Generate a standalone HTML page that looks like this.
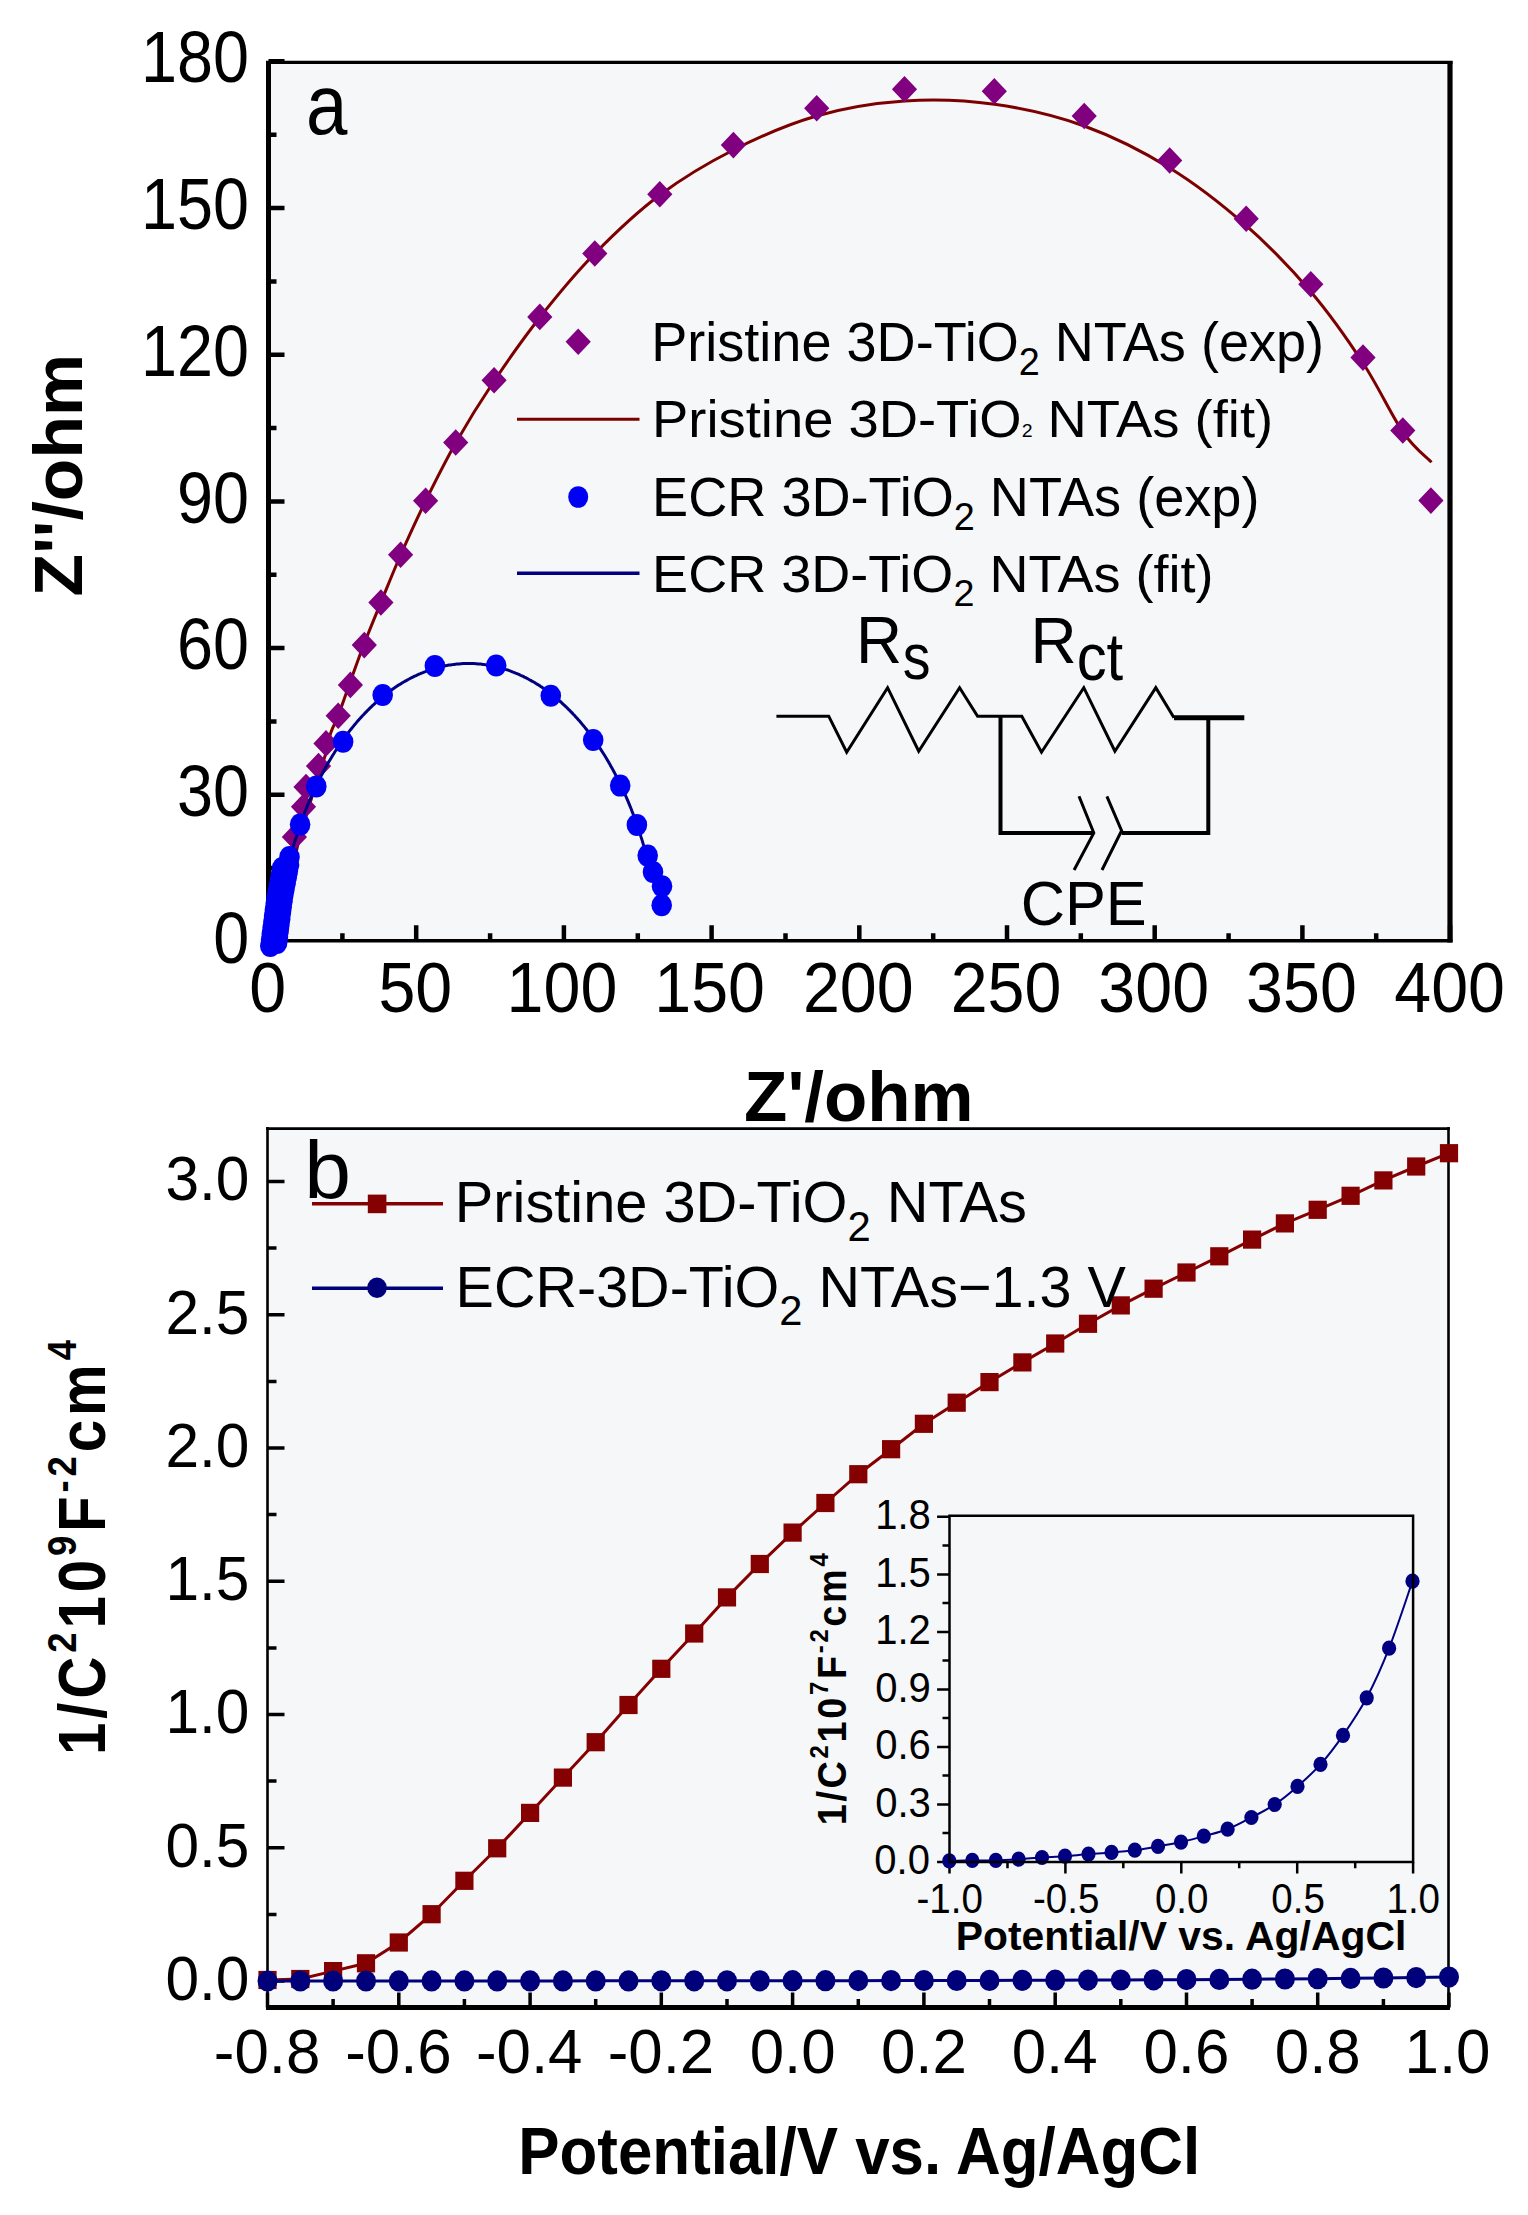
<!DOCTYPE html>
<html><head><meta charset="utf-8"><style>
html,body{margin:0;padding:0;background:#fff;}
svg{display:block}
</style></head><body>
<svg width="1528" height="2215" viewBox="0 0 1528 2215">
<rect width="1528" height="2215" fill="#fff"/>
<rect x="268.5" y="62.5" width="1181.5" height="878.3" fill="#f5f7f9"/>
<path d="M268.5 941.5h16 M268.5 868.1h8 M268.5 794.8h16 M268.5 721.5h8 M268.5 648.1h16 M268.5 574.8h8 M268.5 501.4h16 M268.5 428.1h8 M268.5 354.7h16 M268.5 281.4h8 M268.5 208.0h16 M268.5 134.7h8 M268.5 61.3h16 M268.5 940.8v-15.5 M342.4 940.8v-7.5 M416.2 940.8v-15.5 M490.1 940.8v-7.5 M563.9 940.8v-15.5 M637.8 940.8v-7.5 M711.6 940.8v-15.5 M785.5 940.8v-7.5 M859.3 940.8v-15.5 M933.2 940.8v-7.5 M1007.0 940.8v-15.5 M1080.8 940.8v-7.5 M1154.7 940.8v-15.5 M1228.6 940.8v-7.5 M1302.4 940.8v-15.5 M1376.2 940.8v-7.5 M1450.1 940.8v-15.5" stroke="#000" stroke-width="4.5" fill="none"/>
<path d="M268.5 61V942.5" stroke="#000" stroke-width="5" fill="none"/>
<path d="M266 62.4H1452.5" stroke="#000" stroke-width="3.2" fill="none"/>
<path d="M1450 61V942.5" stroke="#000" stroke-width="5.2" fill="none"/>
<path d="M266 940.8H1452.5" stroke="#000" stroke-width="3.6" fill="none"/>
<path d="M286.1,940.6 C286.5,936.3 287.3,925.0 288.3,914.6 C289.3,904.2 290.3,890.0 291.9,878.4 C293.5,866.8 295.0,856.5 297.7,845.2 C300.4,833.9 304.8,820.6 307.8,810.5 C310.8,800.4 312.9,793.6 315.8,784.5 C318.7,775.4 322.6,764.3 325.1,755.6 C327.6,746.9 328.7,739.1 330.9,732.5 C333.1,725.9 335.1,723.9 338.2,715.7 C341.3,707.5 345.5,695.0 349.7,683.4 C353.9,671.8 358.2,659.3 363.4,645.8 C368.6,632.3 374.7,617.6 380.9,602.5 C387.1,587.4 393.2,571.9 400.6,555.0 C408.1,538.1 416.4,519.7 425.6,501.0 C434.8,482.3 444.3,463.0 455.7,443.0 C467.1,423.0 480.1,401.9 494.1,381.0 C508.1,360.1 523.1,338.7 539.8,317.5 C556.5,296.3 574.4,274.4 594.4,254.0 C614.4,233.6 636.6,212.3 659.8,195.0 C683.0,177.7 707.3,163.2 733.4,150.0 C759.5,136.8 788.0,124.2 816.5,116.0 C845.0,107.8 874.8,103.0 904.5,101.0 C934.2,99.0 964.5,100.1 994.5,104.3 C1024.5,108.5 1055.0,115.4 1084.2,126.0 C1113.4,136.6 1142.7,151.4 1169.7,168.0 C1196.7,184.6 1222.7,205.1 1246.2,225.7 C1269.7,246.3 1291.3,268.8 1310.8,291.7 C1330.3,314.6 1347.7,339.6 1363.0,363.0 C1378.3,386.4 1391.4,415.2 1402.8,431.8 C1414.2,448.4 1426.7,457.2 1431.5,462.3" stroke="#7d0000" stroke-width="3" fill="none"/>
<path d="M594.8 240.2L607.4 253.5L594.8 266.8L582.2 253.5ZM539.8 303.6L552.4 316.9L539.8 330.2L527.2 316.9ZM494.1 366.9L506.7 380.2L494.1 393.5L481.5 380.2ZM455.7 429.2L468.3 442.5L455.7 455.8L443.1 442.5ZM425.6 487.4L438.2 500.7L425.6 514.0L413.0 500.7ZM400.6 541.4L413.2 554.7L400.6 568.0L388.0 554.7ZM380.9 589.2L393.5 602.5L380.9 615.8L368.3 602.5ZM364.3 631.8L376.9 645.1L364.3 658.4L351.7 645.1ZM659.8 180.9L672.4 194.2L659.8 207.5L647.2 194.2ZM733.4 131.8L746.0 145.1L733.4 158.4L720.8 145.1ZM816.7 94.9L829.3 108.2L816.7 121.5L804.1 108.2ZM904.5 75.9L917.1 89.2L904.5 102.5L891.9 89.2ZM994.3 78.0L1006.9 91.3L994.3 104.6L981.7 91.3ZM1084.2 102.7L1096.8 116.0L1084.2 129.3L1071.6 116.0ZM1169.7 147.2L1182.3 160.5L1169.7 173.8L1157.1 160.5ZM1246.2 205.5L1258.8 218.8L1246.2 232.1L1233.6 218.8ZM1310.8 270.9L1323.4 284.2L1310.8 297.5L1298.2 284.2ZM1363.0 344.3L1375.6 357.6L1363.0 370.9L1350.4 357.6ZM1402.8 417.2L1415.4 430.5L1402.8 443.8L1390.2 430.5ZM1430.9 487.3L1443.5 500.6L1430.9 513.9L1418.3 500.6ZM350.4 671.6L363.0 684.9L350.4 698.2L337.8 684.9ZM338.2 702.4L350.8 715.7L338.2 729.0L325.6 715.7ZM326.0 730.1L338.6 743.4L326.0 756.7L313.4 743.4ZM318.5 752.8L331.1 766.1L318.5 779.4L305.9 766.1ZM306.0 773.7L318.6 787.0L306.0 800.3L293.4 787.0ZM303.5 793.4L316.1 806.7L303.5 820.0L290.9 806.7ZM294.4 823.7L307.0 837.0L294.4 850.3L281.8 837.0ZM286.8 852.7L299.4 866.0L286.8 879.3L274.2 866.0ZM285.1 861.7L297.7 875.0L285.1 888.3L272.5 875.0ZM283.4 870.7L296.0 884.0L283.4 897.3L270.8 884.0ZM281.7 879.7L294.3 893.0L281.7 906.3L269.1 893.0ZM280.1 888.7L292.7 902.0L280.1 915.3L267.5 902.0ZM279.0 897.7L291.6 911.0L279.0 924.3L266.4 911.0ZM277.8 906.7L290.4 920.0L277.8 933.3L265.2 920.0ZM276.7 915.7L289.3 929.0L276.7 942.3L264.1 929.0ZM275.5 924.7L288.1 938.0L275.5 951.3L262.9 938.0ZM273.8 929.7L286.4 943.0L273.8 956.3L261.2 943.0Z" fill="#800080"/>
<path d="M276.2,941.5 L277.4,928.3 L278.7,917.8 L280.0,908.7 L281.2,900.7 L282.5,893.4 L283.7,886.7 L285.0,880.4 L286.2,874.6 L287.5,869.1 L288.7,863.8 L290.0,858.9 L291.2,854.1 L292.5,849.5 L293.7,845.2 L295.0,840.9 L296.3,836.9 L297.5,832.9 L298.8,829.1 L300.0,825.5 L301.3,821.9 L302.5,818.4 L303.8,815.0 L305.0,811.7 L306.3,808.5 L307.5,805.4 L308.8,802.4 L310.0,799.4 L311.3,796.5 L312.6,793.7 L313.8,790.9 L315.1,788.2 L316.3,785.5 L317.6,782.9 L318.8,780.4 L320.1,777.9 L321.3,775.5 L322.6,773.1 L323.8,770.7 L325.1,768.4 L326.3,766.2 L327.6,764.0 L328.8,761.8 L330.1,759.7 L331.4,757.6 L332.6,755.5 L333.9,753.5 L335.1,751.5 L336.4,749.6 L337.6,747.7 L338.9,745.8 L340.1,743.9 L341.4,742.1 L342.6,740.3 L343.9,738.6 L345.1,736.9 L346.4,735.2 L347.7,733.5 L348.9,731.9 L350.2,730.2 L351.4,728.7 L352.7,727.1 L353.9,725.6 L355.2,724.1 L356.4,722.6 L357.7,721.1 L358.9,719.7 L360.2,718.3 L361.4,716.9 L362.7,715.5 L364.0,714.2 L365.2,712.9 L366.5,711.6 L367.7,710.3 L369.0,709.1 L370.2,707.8 L371.5,706.6 L372.7,705.4 L374.0,704.3 L375.2,703.1 L376.5,702.0 L377.7,700.9 L379.0,699.8 L380.3,698.7 L381.5,697.7 L382.8,696.6 L384.0,695.6 L385.3,694.6 L386.5,693.7 L387.8,692.7 L389.0,691.8 L390.3,690.8 L391.5,689.9 L392.8,689.0 L394.0,688.2 L395.3,687.3 L396.5,686.5 L397.8,685.6 L399.1,684.8 L400.3,684.1 L401.6,683.3 L402.8,682.5 L404.1,681.8 L405.3,681.1 L406.6,680.4 L407.8,679.7 L409.1,679.0 L410.3,678.3 L411.6,677.7 L412.8,677.1 L414.1,676.4 L415.4,675.8 L416.6,675.3 L417.9,674.7 L419.1,674.1 L420.4,673.6 L421.6,673.1 L422.9,672.6 L424.1,672.1 L425.4,671.6 L426.6,671.1 L427.9,670.7 L429.1,670.2 L430.4,669.8 L431.7,669.4 L432.9,669.0 L434.2,668.6 L435.4,668.2 L436.7,667.9 L437.9,667.5 L439.2,667.2 L440.4,666.9 L441.7,666.6 L442.9,666.3 L444.2,666.1 L445.4,665.8 L446.7,665.6 L447.9,665.3 L449.2,665.1 L450.5,664.9 L451.7,664.7 L453.0,664.6 L454.2,664.4 L455.5,664.2 L456.7,664.1 L458.0,664.0 L459.2,663.9 L460.5,663.8 L461.7,663.7 L463.0,663.6 L464.2,663.6 L465.5,663.5 L466.8,663.5 L468.0,663.5 L469.3,663.5 L470.5,663.5 L471.8,663.5 L473.0,663.6 L474.3,663.6 L475.5,663.7 L476.8,663.8 L478.0,663.9 L479.3,664.0 L480.5,664.1 L481.8,664.2 L483.1,664.4 L484.3,664.6 L485.6,664.7 L486.8,664.9 L488.1,665.1 L489.3,665.3 L490.6,665.6 L491.8,665.8 L493.1,666.1 L494.3,666.3 L495.6,666.6 L496.8,666.9 L498.1,667.2 L499.3,667.5 L500.6,667.9 L501.9,668.2 L503.1,668.6 L504.4,669.0 L505.6,669.4 L506.9,669.8 L508.1,670.2 L509.4,670.7 L510.6,671.1 L511.9,671.6 L513.1,672.1 L514.4,672.6 L515.6,673.1 L516.9,673.6 L518.2,674.1 L519.4,674.7 L520.7,675.3 L521.9,675.8 L523.2,676.4 L524.4,677.1 L525.7,677.7 L526.9,678.3 L528.2,679.0 L529.4,679.7 L530.7,680.4 L531.9,681.1 L533.2,681.8 L534.5,682.5 L535.7,683.3 L537.0,684.1 L538.2,684.8 L539.5,685.6 L540.7,686.5 L542.0,687.3 L543.2,688.2 L544.5,689.0 L545.7,689.9 L547.0,690.8 L548.2,691.8 L549.5,692.7 L550.7,693.7 L552.0,694.6 L553.3,695.6 L554.5,696.6 L555.8,697.7 L557.0,698.7 L558.3,699.8 L559.5,700.9 L560.8,702.0 L562.0,703.1 L563.3,704.3 L564.5,705.4 L565.8,706.6 L567.0,707.8 L568.3,709.1 L569.6,710.3 L570.8,711.6 L572.1,712.9 L573.3,714.2 L574.6,715.5 L575.8,716.9 L577.1,718.3 L578.3,719.7 L579.6,721.1 L580.8,722.6 L582.1,724.1 L583.3,725.6 L584.6,727.1 L585.9,728.7 L587.1,730.2 L588.4,731.9 L589.6,733.5 L590.9,735.2 L592.1,736.9 L593.4,738.6 L594.6,740.3 L595.9,742.1 L597.1,743.9 L598.4,745.8 L599.6,747.7 L600.9,749.6 L602.1,751.5 L603.4,753.5 L604.7,755.5 L605.9,757.6 L607.2,759.7 L608.4,761.8 L609.7,764.0 L610.9,766.2 L612.2,768.4 L613.4,770.7 L614.7,773.1 L615.9,775.5 L617.2,777.9 L618.4,780.4 L619.7,782.9 L621.0,785.5 L622.2,788.2 L623.5,790.9 L624.7,793.7 L626.0,796.5 L627.2,799.4 L628.5,802.4 L629.7,805.4 L631.0,808.5 L632.2,811.7 L633.5,815.0 L634.7,818.4 L636.0,821.9 L637.3,825.5 L638.5,829.1 L639.8,832.9 L641.0,836.9 L642.3,840.9 L643.5,845.2 L644.8,849.5 L646.0,854.1 L647.3,858.9 L648.5,863.8 L649.8,869.1 L651.0,874.6" stroke="#000080" stroke-width="3" fill="none"/>
<g fill="#0000f5"><ellipse cx="434.9" cy="665.9" rx="10.3" ry="11"/><ellipse cx="496.2" cy="665.5" rx="10.3" ry="11"/><ellipse cx="550.8" cy="695.7" rx="10.3" ry="11"/><ellipse cx="593.2" cy="740.0" rx="10.3" ry="11"/><ellipse cx="620.2" cy="785.6" rx="10.3" ry="11"/><ellipse cx="636.9" cy="824.9" rx="10.3" ry="11"/><ellipse cx="647.7" cy="855.6" rx="10.3" ry="11"/><ellipse cx="653.0" cy="872.0" rx="10.3" ry="11"/><ellipse cx="662.0" cy="886.3" rx="10.3" ry="11"/><ellipse cx="661.7" cy="905.2" rx="10.3" ry="11"/><ellipse cx="382.7" cy="695.0" rx="10.3" ry="11"/><ellipse cx="343.1" cy="741.7" rx="10.3" ry="11"/><ellipse cx="316.3" cy="786.4" rx="10.3" ry="11"/><ellipse cx="300.1" cy="824.6" rx="10.3" ry="11"/><ellipse cx="289.5" cy="857.1" rx="10.3" ry="11"/><ellipse cx="270.3" cy="946.0" rx="10.3" ry="11"/><ellipse cx="277.1" cy="943.0" rx="10.3" ry="11"/><ellipse cx="271.1" cy="940.0" rx="10.3" ry="11"/><ellipse cx="277.9" cy="937.0" rx="10.3" ry="11"/><ellipse cx="271.8" cy="934.0" rx="10.3" ry="11"/><ellipse cx="278.6" cy="931.0" rx="10.3" ry="11"/><ellipse cx="272.6" cy="928.0" rx="10.3" ry="11"/><ellipse cx="279.4" cy="925.0" rx="10.3" ry="11"/><ellipse cx="273.4" cy="922.0" rx="10.3" ry="11"/><ellipse cx="280.2" cy="919.0" rx="10.3" ry="11"/><ellipse cx="274.1" cy="916.0" rx="10.3" ry="11"/><ellipse cx="280.9" cy="913.0" rx="10.3" ry="11"/><ellipse cx="274.9" cy="910.0" rx="10.3" ry="11"/><ellipse cx="281.7" cy="907.0" rx="10.3" ry="11"/><ellipse cx="275.7" cy="904.0" rx="10.3" ry="11"/><ellipse cx="282.5" cy="901.0" rx="10.3" ry="11"/><ellipse cx="276.6" cy="898.0" rx="10.3" ry="11"/><ellipse cx="283.4" cy="895.0" rx="10.3" ry="11"/><ellipse cx="277.7" cy="892.0" rx="10.3" ry="11"/><ellipse cx="284.5" cy="889.0" rx="10.3" ry="11"/><ellipse cx="278.8" cy="886.0" rx="10.3" ry="11"/><ellipse cx="285.6" cy="883.0" rx="10.3" ry="11"/><ellipse cx="280.0" cy="880.0" rx="10.3" ry="11"/><ellipse cx="286.8" cy="877.0" rx="10.3" ry="11"/><ellipse cx="281.1" cy="874.0" rx="10.3" ry="11"/><ellipse cx="287.9" cy="871.0" rx="10.3" ry="11"/><ellipse cx="282.2" cy="868.0" rx="10.3" ry="11"/><ellipse cx="289.0" cy="865.0" rx="10.3" ry="11"/></g>
<path d="M578.2 328.4L590.8 341.7L578.2 355.0L565.6 341.7Z" fill="#800080"/>
<path d="M517 419.2H639.5" stroke="#7d0000" stroke-width="3"/>
<ellipse cx="578.2" cy="497" rx="10" ry="10.8" fill="#0000f5"/>
<path d="M517 573.2H639.5" stroke="#000080" stroke-width="3.6"/>
<path d="M776.4 716.2H828.7L846.7 752.2L887.6 687.7L918.7 751.2L959.6 687.7L977.6 716.2H1021.8L1041.5 752.2L1083.8 687.7L1114.9 751.2L1155.8 687.7L1174 717.8" stroke="#000" stroke-width="3" fill="none"/>
<path d="M1174 717.8H1244.3" stroke="#000" stroke-width="5" fill="none"/>
<path d="M1000.5 716V833H1093.8M1121.6 833H1208.3V717.8" stroke="#000" stroke-width="4" fill="none"/>
<path d="M1079 796.3L1093.8 833L1074.1 870M1106.9 796.3L1121.6 830.7L1102 870" stroke="#000" stroke-width="3" fill="none"/>
<rect x="267.5" y="1128.6" width="1181" height="879" fill="#f5f7f9"/>
<path d="M267.5 1981.0h17 M267.5 1914.4h9 M267.5 1847.8h17 M267.5 1781.1h9 M267.5 1714.5h17 M267.5 1647.9h9 M267.5 1581.2h17 M267.5 1514.6h9 M267.5 1448.0h17 M267.5 1381.4h9 M267.5 1314.8h17 M267.5 1248.1h9 M267.5 1181.5h17 M267.5 2007.6v-15 M333.1 2007.6v-8.5 M398.8 2007.6v-15 M464.4 2007.6v-8.5 M530.1 2007.6v-15 M595.7 2007.6v-8.5 M661.3 2007.6v-15 M727.0 2007.6v-8.5 M792.6 2007.6v-15 M858.3 2007.6v-8.5 M923.9 2007.6v-15 M989.5 2007.6v-8.5 M1055.2 2007.6v-15 M1120.8 2007.6v-8.5 M1186.5 2007.6v-15 M1252.1 2007.6v-8.5 M1317.7 2007.6v-15 M1383.4 2007.6v-8.5 M1449.0 2007.6v-15" stroke="#000" stroke-width="3.5" fill="none"/>
<path d="M267.5 1127V2010M1448.5 1127V2010" stroke="#000" stroke-width="2.6" fill="none"/>
<path d="M266.2 1128.6H1449.8" stroke="#000" stroke-width="2.8" fill="none"/>
<path d="M266.2 2007.6H1449.8" stroke="#000" stroke-width="5" fill="none"/>
<path d="M267.5,1980.0 L300.3,1979.0 L333.1,1971.1 L366.0,1963.3 L398.8,1942.5 L431.6,1914.2 L464.4,1880.8 L497.2,1848.3 L530.1,1812.9 L562.9,1777.6 L595.7,1742.2 L628.5,1705.0 L661.3,1668.8 L694.2,1633.5 L727.0,1597.4 L759.8,1564.0 L792.6,1532.6 L825.4,1503.0 L858.3,1474.2 L891.1,1449.2 L923.9,1423.8 L956.7,1402.7 L989.5,1382.1 L1022.4,1362.4 L1055.2,1343.5 L1088.0,1323.8 L1120.8,1305.4 L1153.6,1288.7 L1186.5,1272.5 L1219.3,1256.3 L1252.1,1239.6 L1284.9,1223.4 L1317.7,1209.8 L1350.6,1195.8 L1383.4,1180.4 L1416.2,1166.5 L1449.0,1153.2" stroke="#850000" stroke-width="3" fill="none"/>
<g fill="#850000"><rect x="258.4" y="1970.9" width="18.2" height="18.2"/><rect x="291.2" y="1969.9" width="18.2" height="18.2"/><rect x="324.0" y="1962.0" width="18.2" height="18.2"/><rect x="356.9" y="1954.2" width="18.2" height="18.2"/><rect x="389.7" y="1933.4" width="18.2" height="18.2"/><rect x="422.5" y="1905.1" width="18.2" height="18.2"/><rect x="455.3" y="1871.7" width="18.2" height="18.2"/><rect x="488.1" y="1839.2" width="18.2" height="18.2"/><rect x="521.0" y="1803.8" width="18.2" height="18.2"/><rect x="553.8" y="1768.5" width="18.2" height="18.2"/><rect x="586.6" y="1733.1" width="18.2" height="18.2"/><rect x="619.4" y="1695.9" width="18.2" height="18.2"/><rect x="652.2" y="1659.7" width="18.2" height="18.2"/><rect x="685.1" y="1624.4" width="18.2" height="18.2"/><rect x="717.9" y="1588.3" width="18.2" height="18.2"/><rect x="750.7" y="1554.9" width="18.2" height="18.2"/><rect x="783.5" y="1523.5" width="18.2" height="18.2"/><rect x="816.3" y="1493.9" width="18.2" height="18.2"/><rect x="849.2" y="1465.1" width="18.2" height="18.2"/><rect x="882.0" y="1440.1" width="18.2" height="18.2"/><rect x="914.8" y="1414.7" width="18.2" height="18.2"/><rect x="947.6" y="1393.6" width="18.2" height="18.2"/><rect x="980.4" y="1373.0" width="18.2" height="18.2"/><rect x="1013.3" y="1353.3" width="18.2" height="18.2"/><rect x="1046.1" y="1334.4" width="18.2" height="18.2"/><rect x="1078.9" y="1314.7" width="18.2" height="18.2"/><rect x="1111.7" y="1296.3" width="18.2" height="18.2"/><rect x="1144.5" y="1279.6" width="18.2" height="18.2"/><rect x="1177.4" y="1263.4" width="18.2" height="18.2"/><rect x="1210.2" y="1247.2" width="18.2" height="18.2"/><rect x="1243.0" y="1230.5" width="18.2" height="18.2"/><rect x="1275.8" y="1214.3" width="18.2" height="18.2"/><rect x="1308.6" y="1200.7" width="18.2" height="18.2"/><rect x="1341.5" y="1186.7" width="18.2" height="18.2"/><rect x="1374.3" y="1171.3" width="18.2" height="18.2"/><rect x="1407.1" y="1157.4" width="18.2" height="18.2"/><rect x="1439.9" y="1144.1" width="18.2" height="18.2"/></g>
<path d="M267.5,1980.98 L300.3,1980.97 L333.1,1980.96 L366.0,1980.95 L398.8,1980.94 L431.6,1980.93 L464.4,1980.92 L497.2,1980.91 L530.1,1980.89 L562.9,1980.88 L595.7,1980.87 L628.5,1980.85 L661.3,1980.84 L694.2,1980.81 L727.0,1980.78 L759.8,1980.75 L792.6,1980.72 L825.4,1980.68 L858.3,1980.64 L891.1,1980.59 L923.9,1980.55 L956.7,1980.46 L989.5,1980.38 L1022.4,1980.29 L1055.2,1980.20 L1088.0,1980.08 L1120.8,1979.95 L1153.6,1979.80 L1186.5,1979.64 L1219.3,1979.44 L1252.1,1979.24 L1284.9,1978.98 L1317.7,1978.72 L1350.6,1978.37 L1383.4,1978.03 L1416.2,1977.56 L1449.0,1977.10" stroke="#00007a" stroke-width="3" fill="none"/>
<g fill="#00007a"><ellipse cx="267.5" cy="1981.0" rx="10" ry="10.6"/><ellipse cx="300.3" cy="1981.0" rx="10" ry="10.6"/><ellipse cx="333.1" cy="1981.0" rx="10" ry="10.6"/><ellipse cx="366.0" cy="1981.0" rx="10" ry="10.6"/><ellipse cx="398.8" cy="1980.9" rx="10" ry="10.6"/><ellipse cx="431.6" cy="1980.9" rx="10" ry="10.6"/><ellipse cx="464.4" cy="1980.9" rx="10" ry="10.6"/><ellipse cx="497.2" cy="1980.9" rx="10" ry="10.6"/><ellipse cx="530.1" cy="1980.9" rx="10" ry="10.6"/><ellipse cx="562.9" cy="1980.9" rx="10" ry="10.6"/><ellipse cx="595.7" cy="1980.9" rx="10" ry="10.6"/><ellipse cx="628.5" cy="1980.9" rx="10" ry="10.6"/><ellipse cx="661.3" cy="1980.8" rx="10" ry="10.6"/><ellipse cx="694.2" cy="1980.8" rx="10" ry="10.6"/><ellipse cx="727.0" cy="1980.8" rx="10" ry="10.6"/><ellipse cx="759.8" cy="1980.8" rx="10" ry="10.6"/><ellipse cx="792.6" cy="1980.7" rx="10" ry="10.6"/><ellipse cx="825.4" cy="1980.7" rx="10" ry="10.6"/><ellipse cx="858.3" cy="1980.6" rx="10" ry="10.6"/><ellipse cx="891.1" cy="1980.6" rx="10" ry="10.6"/><ellipse cx="923.9" cy="1980.5" rx="10" ry="10.6"/><ellipse cx="956.7" cy="1980.5" rx="10" ry="10.6"/><ellipse cx="989.5" cy="1980.4" rx="10" ry="10.6"/><ellipse cx="1022.4" cy="1980.3" rx="10" ry="10.6"/><ellipse cx="1055.2" cy="1980.2" rx="10" ry="10.6"/><ellipse cx="1088.0" cy="1980.1" rx="10" ry="10.6"/><ellipse cx="1120.8" cy="1980.0" rx="10" ry="10.6"/><ellipse cx="1153.6" cy="1979.8" rx="10" ry="10.6"/><ellipse cx="1186.5" cy="1979.6" rx="10" ry="10.6"/><ellipse cx="1219.3" cy="1979.4" rx="10" ry="10.6"/><ellipse cx="1252.1" cy="1979.2" rx="10" ry="10.6"/><ellipse cx="1284.9" cy="1979.0" rx="10" ry="10.6"/><ellipse cx="1317.7" cy="1978.7" rx="10" ry="10.6"/><ellipse cx="1350.6" cy="1978.4" rx="10" ry="10.6"/><ellipse cx="1383.4" cy="1978.0" rx="10" ry="10.6"/><ellipse cx="1416.2" cy="1977.6" rx="10" ry="10.6"/><ellipse cx="1449.0" cy="1977.1" rx="10" ry="10.6"/></g>
<path d="M312 1203.8H443" stroke="#850000" stroke-width="3.5"/><rect x="367.8" y="1194.6" width="18.6" height="18.6" fill="#850000"/>
<path d="M312 1288.3H443" stroke="#00007a" stroke-width="3.5"/><ellipse cx="377" cy="1287.8" rx="9.8" ry="10.3" fill="#00007a"/>
<path d="M949.5 1861.9h-12.4 M949.5 1833.1h-7 M949.5 1804.4h-12.4 M949.5 1775.6h-7 M949.5 1746.9h-12.4 M949.5 1718.1h-7 M949.5 1689.4h-12.4 M949.5 1660.6h-7 M949.5 1631.9h-12.4 M949.5 1603.1h-7 M949.5 1574.4h-12.4 M949.5 1545.6h-7 M949.5 1516.8h-12.4 M949.5 1862v11.5 M1007.5 1862v6.2 M1065.4 1862v11.5 M1123.3 1862v6.2 M1181.3 1862v11.5 M1239.2 1862v6.2 M1297.2 1862v11.5 M1355.2 1862v6.2 M1413.1 1862v11.5" stroke="#000" stroke-width="2.5" fill="none"/>
<path d="M949.3,1860.9 C953.1,1860.8 964.5,1860.5 972.3,1860.4 C980.0,1860.3 988.1,1860.6 995.8,1860.4 C1003.5,1860.2 1010.9,1859.7 1018.6,1859.2 C1026.3,1858.7 1034.3,1858.0 1042.0,1857.5 C1049.7,1857.0 1057.2,1856.8 1065.0,1856.2 C1072.8,1855.6 1080.8,1854.7 1088.5,1854.1 C1096.2,1853.5 1103.8,1853.1 1111.5,1852.4 C1119.2,1851.8 1127.0,1851.2 1134.8,1850.2 C1142.5,1849.2 1150.3,1847.8 1158.0,1846.4 C1165.7,1845.1 1173.4,1843.8 1181.0,1842.1 C1188.6,1840.4 1196.0,1838.2 1203.8,1836.1 C1211.6,1833.9 1219.7,1832.3 1227.6,1829.2 C1235.5,1826.1 1243.6,1821.6 1251.4,1817.5 C1259.2,1813.4 1267.0,1809.7 1274.7,1804.5 C1282.4,1799.3 1289.9,1793.1 1297.5,1786.4 C1305.1,1779.7 1312.9,1772.9 1320.5,1764.4 C1328.1,1755.9 1335.3,1746.5 1343.0,1735.4 C1350.7,1724.3 1359.0,1712.3 1366.7,1697.8 C1374.4,1683.3 1381.5,1667.6 1389.1,1648.2 C1396.7,1628.8 1408.6,1592.4 1412.5,1581.2" stroke="#000080" stroke-width="2" fill="none"/>
<g fill="#000080"><ellipse cx="949.3" cy="1860.9" rx="7.1" ry="7.6"/><ellipse cx="972.3" cy="1860.4" rx="7.1" ry="7.6"/><ellipse cx="995.8" cy="1860.4" rx="7.1" ry="7.6"/><ellipse cx="1018.6" cy="1859.2" rx="7.1" ry="7.6"/><ellipse cx="1042.0" cy="1857.5" rx="7.1" ry="7.6"/><ellipse cx="1065.0" cy="1856.2" rx="7.1" ry="7.6"/><ellipse cx="1088.5" cy="1854.1" rx="7.1" ry="7.6"/><ellipse cx="1111.5" cy="1852.4" rx="7.1" ry="7.6"/><ellipse cx="1134.8" cy="1850.2" rx="7.1" ry="7.6"/><ellipse cx="1158.0" cy="1846.4" rx="7.1" ry="7.6"/><ellipse cx="1181.0" cy="1842.1" rx="7.1" ry="7.6"/><ellipse cx="1203.8" cy="1836.1" rx="7.1" ry="7.6"/><ellipse cx="1227.6" cy="1829.2" rx="7.1" ry="7.6"/><ellipse cx="1251.4" cy="1817.5" rx="7.1" ry="7.6"/><ellipse cx="1274.7" cy="1804.5" rx="7.1" ry="7.6"/><ellipse cx="1297.5" cy="1786.4" rx="7.1" ry="7.6"/><ellipse cx="1320.5" cy="1764.4" rx="7.1" ry="7.6"/><ellipse cx="1343.0" cy="1735.4" rx="7.1" ry="7.6"/><ellipse cx="1366.7" cy="1697.8" rx="7.1" ry="7.6"/><ellipse cx="1389.1" cy="1648.2" rx="7.1" ry="7.6"/><ellipse cx="1412.5" cy="1581.2" rx="7.1" ry="7.6"/></g>
<path d="M949.5 1515.7H1413.1V1862.1H949.5Z" fill="none" stroke="#000" stroke-width="2.5"/>
<g font-family="'Liberation Sans', Arial, sans-serif" fill="#000"><text transform="translate(305.94,133.61) scale(0.8659,0.9851)" font-size="86">a</text><text transform="translate(304.2,1197.6) scale(1.0000,0.9738)" font-size="84">b</text><text transform="translate(81.81,596.39) rotate(-90) scale(0.9966,0.9885)" font-size="70" font-weight="bold">Z''/ohm</text><text transform="translate(744.07,1120.8) scale(1.0132,1.0000)" font-size="70" font-weight="bold">Z'/ohm</text><text transform="translate(651.22,361) scale(1.0202,1.0366)" font-size="53">Pristine 3D-TiO<tspan font-size="37" dy="13.8">2</tspan><tspan dy="-13.8"> NTAs (exp)</tspan></text><text transform="translate(652.1,436.8) scale(1.0258,0.9928)" font-size="53">Pristine 3D-TiO<tspan font-size="19">2</tspan> NTAs (fit)</text><text transform="translate(652.11,515.5) scale(1.0214,1.0504)" font-size="53">ECR 3D-TiO<tspan font-size="37" dy="13.8">2</tspan><tspan dy="-13.8"> NTAs (exp)</tspan></text><text transform="translate(652.12,592) scale(1.0199,0.9873)" font-size="53">ECR 3D-TiO<tspan font-size="37" dy="13.8">2</tspan><tspan dy="-13.8"> NTAs (fit)</tspan></text><text transform="translate(856.07,663.3) scale(0.9667,0.9978)" font-size="66">R</text><text transform="translate(902.82,679.2) scale(0.8414,0.9771)" font-size="66">s</text><text transform="translate(1030.55,663.3) scale(0.9692,0.9935)" font-size="66">R</text><text transform="translate(1076.68,679.5) scale(0.9062,0.9977)" font-size="66">ct</text><text transform="translate(1020.73,924.8) scale(0.9885,1.0010)" font-size="62">CPE</text><text transform="translate(518.25,2173.8) scale(0.9376,1.0064)" font-size="66" font-weight="bold">Potential/V vs. Ag/AgCl</text><text transform="translate(105.43,1755.07) rotate(-90) scale(0.8684,0.9836)" font-size="67" font-weight="bold" letter-spacing="4.5">1/C<tspan font-size="42" dy="-29.7">2</tspan><tspan dy="29.7">10</tspan><tspan font-size="42" dy="-29.7">9</tspan><tspan dy="29.7">F</tspan><tspan font-size="42" dy="-29.7">-2</tspan><tspan dy="29.7">cm</tspan><tspan font-size="42" dy="-29.7">4</tspan></text><text transform="translate(454.82,1222.4) scale(0.9961,1.0024)" font-size="58">Pristine 3D-TiO<tspan font-size="42" dy="18.5">2</tspan><tspan dy="-18.5"> NTAs</tspan></text><text transform="translate(455.54,1306.8) scale(0.9918,0.9999)" font-size="58">ECR-3D-TiO<tspan font-size="42" dy="18.5">2</tspan><tspan dy="-18.5"> NTAs−1.3 V</tspan></text><text transform="translate(955.71,1949.8) scale(0.9975,1.0068)" font-size="41" font-weight="bold">Potential/V vs. Ag/AgCl</text><text transform="translate(845.93,1825.26) rotate(-90) scale(0.8865,0.9718)" font-size="42.7" font-weight="bold" letter-spacing="3">1/C<tspan font-size="27" dy="-18.9">2</tspan><tspan dy="18.9">10</tspan><tspan font-size="27" dy="-18.9">7</tspan><tspan dy="18.9">F</tspan><tspan font-size="27" dy="-18.9">-2</tspan><tspan dy="18.9">cm</tspan><tspan font-size="27" dy="-18.9">4</tspan></text><text transform="translate(213.28,962.6) scale(0.9519,1.0553)" font-size="68">0</text><text transform="translate(177.11,815.9) scale(0.9519,1.0553)" font-size="68">30</text><text transform="translate(177.11,669.2) scale(0.9519,1.0553)" font-size="68">60</text><text transform="translate(177.11,522.5) scale(0.9519,1.0553)" font-size="68">90</text><text transform="translate(140.94,375.8) scale(0.9519,1.0553)" font-size="68">120</text><text transform="translate(140.94,229.1) scale(0.9519,1.0553)" font-size="68">150</text><text transform="translate(140.94,82.4) scale(0.9519,1.0553)" font-size="68">180</text><text transform="translate(249.25,1012.1) scale(0.9761,1.0340)" font-size="68">0</text><text transform="translate(378.41,1012.1) scale(0.9761,1.0340)" font-size="68">50</text><text transform="translate(506.58,1012.1) scale(0.9761,1.0340)" font-size="68">100</text><text transform="translate(654.28,1012.1) scale(0.9761,1.0340)" font-size="68">150</text><text transform="translate(802.96,1012.1) scale(0.9761,1.0340)" font-size="68">200</text><text transform="translate(950.66,1012.1) scale(0.9761,1.0340)" font-size="68">250</text><text transform="translate(1098.36,1012.1) scale(0.9761,1.0340)" font-size="68">300</text><text transform="translate(1246.06,1012.1) scale(0.9761,1.0340)" font-size="68">350</text><text transform="translate(1394.25,1012.1) scale(0.9761,1.0340)" font-size="68">400</text><text transform="translate(165.42,1999.85) scale(0.9900,1.0357)" font-size="61">0.0</text><text transform="translate(165.42,1866.6) scale(0.9900,1.0357)" font-size="61">0.5</text><text transform="translate(165.42,1733.35) scale(0.9900,1.0357)" font-size="61">1.0</text><text transform="translate(165.42,1600.1) scale(0.9900,1.0357)" font-size="61">1.5</text><text transform="translate(165.42,1466.85) scale(0.9900,1.0357)" font-size="61">2.0</text><text transform="translate(165.42,1333.6) scale(0.9900,1.0357)" font-size="61">2.5</text><text transform="translate(165.42,1200.35) scale(0.9900,1.0357)" font-size="61">3.0</text><text transform="translate(213.86,2073.2) scale(1.0141,1.0238)" font-size="61">-0.8</text><text transform="translate(345.14,2073.2) scale(1.0141,1.0238)" font-size="61">-0.6</text><text transform="translate(475.91,2073.2) scale(1.0141,1.0238)" font-size="61">-0.4</text><text transform="translate(607.7,2073.2) scale(1.0141,1.0238)" font-size="61">-0.2</text><text transform="translate(749.63,2073.2) scale(1.0141,1.0238)" font-size="61">0.0</text><text transform="translate(880.91,2073.2) scale(1.0141,1.0238)" font-size="61">0.2</text><text transform="translate(1011.68,2073.2) scale(1.0141,1.0238)" font-size="61">0.4</text><text transform="translate(1143.47,2073.2) scale(1.0141,1.0238)" font-size="61">0.6</text><text transform="translate(1274.75,2073.2) scale(1.0141,1.0238)" font-size="61">0.8</text><text transform="translate(1404.5,2073.2) scale(1.0141,1.0238)" font-size="61">1.0</text><text transform="translate(874.24,1874.1) scale(0.9537,1.0138)" font-size="42">0.0</text><text transform="translate(875.19,1816.59) scale(0.9537,1.0138)" font-size="42">0.3</text><text transform="translate(875.19,1759.08) scale(0.9537,1.0138)" font-size="42">0.6</text><text transform="translate(875.19,1701.57) scale(0.9537,1.0138)" font-size="42">0.9</text><text transform="translate(875.19,1644.06) scale(0.9537,1.0138)" font-size="42">1.2</text><text transform="translate(875.19,1586.55) scale(0.9537,1.0138)" font-size="42">1.5</text><text transform="translate(875.19,1529.04) scale(0.9537,1.0138)" font-size="42">1.8</text><text transform="translate(916.47,1912.9) scale(0.9185,1.0310)" font-size="42">-1.0</text><text transform="translate(1032.93,1912.9) scale(0.9185,1.0310)" font-size="42">-0.5</text><text transform="translate(1154.9,1912.9) scale(0.9185,1.0310)" font-size="42">0.0</text><text transform="translate(1271.36,1912.9) scale(0.9185,1.0310)" font-size="42">0.5</text><text transform="translate(1386.44,1912.9) scale(0.9185,1.0310)" font-size="42">1.0</text></g>
</svg>
</body></html>
